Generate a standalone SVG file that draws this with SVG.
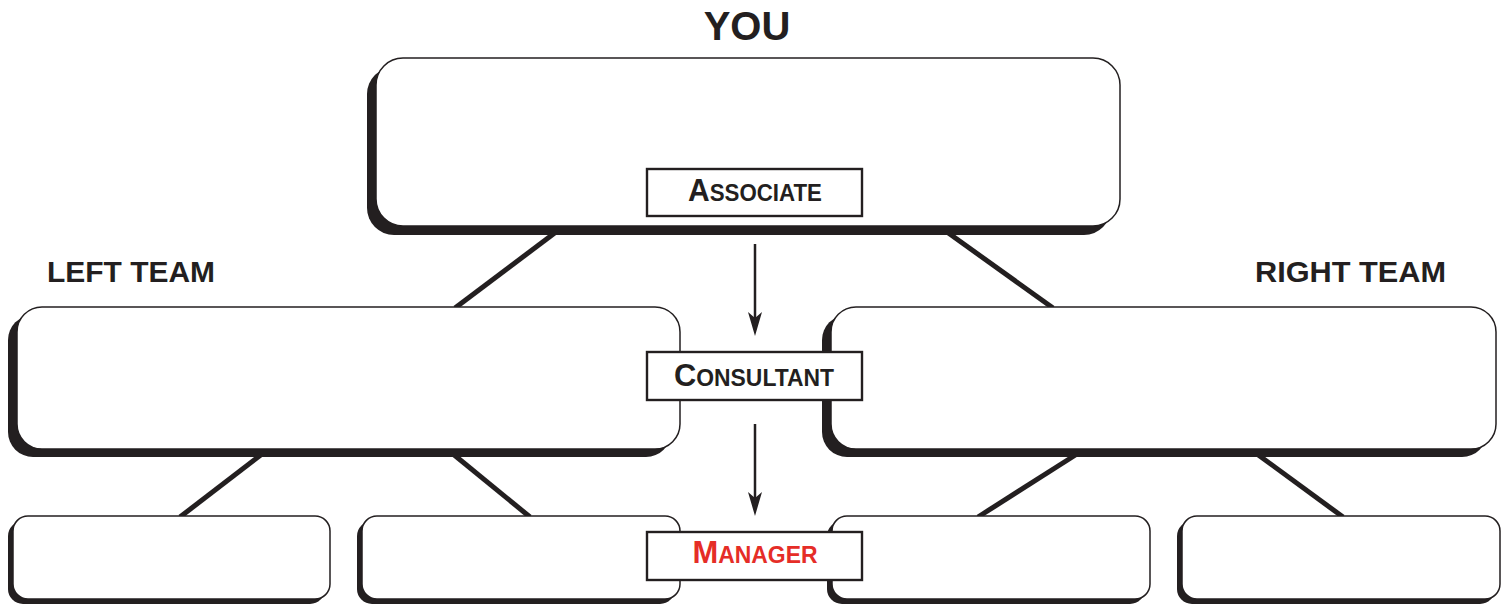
<svg xmlns="http://www.w3.org/2000/svg" width="1507" height="605" viewBox="0 0 1507 605">
<style>
.sh{fill:#231f20}
.bx{fill:#fff;stroke:#231f20;stroke-width:1.5}
.lb{fill:#fff;stroke:#231f20;stroke-width:2.4}
.ln{stroke:#231f20;stroke-width:5;fill:none}
.ar{stroke:#231f20;stroke-width:2.5;fill:none}
.t{font-family:"Liberation Sans",Arial,Helvetica,sans-serif;font-weight:bold;fill:#231f20}
.red{fill:#e52d27}
</style>
<rect width="1507" height="605" fill="#fff"/>
<g id="connectors">
<line class="ln" x1="556" y1="232" x2="455" y2="308"/>
<line class="ln" x1="947" y1="232" x2="1053" y2="308"/>
<line class="ln" x1="262" y1="454" x2="180" y2="517"/>
<line class="ln" x1="453" y1="454" x2="530" y2="517"/>
<line class="ln" x1="1077" y1="454" x2="978" y2="517"/>
<line class="ln" x1="1257" y1="454" x2="1343" y2="517"/>
<line class="ar" x1="755" y1="244" x2="755" y2="318"/>
<path d="M748,312 L755,336 L762,312 L755,318 Z" fill="#231f20"/>
<line class="ar" x1="755" y1="424" x2="755" y2="498"/>
<path d="M748,492 L755,516 L762,492 L755,498 Z" fill="#231f20"/>
</g>
<g id="you">
<text class="t" x="747" y="40" font-size="40" text-anchor="middle">YOU</text>
<rect class="sh" x="367" y="67" width="744" height="168" rx="27"/>
<rect class="bx" x="376" y="58" width="744" height="168" rx="27"/>
</g>
<g id="left-team">
<text class="t" x="47" y="282" font-size="30" textLength="168" lengthAdjust="spacingAndGlyphs">LEFT TEAM</text>
<rect class="sh" x="8" y="315" width="663" height="142" rx="25"/>
<rect class="bx" x="17" y="307" width="663" height="142" rx="25"/>
</g>
<g id="right-team">
<text class="t" x="1255" y="282" font-size="30" textLength="191" lengthAdjust="spacingAndGlyphs">RIGHT TEAM</text>
<rect class="sh" x="822" y="315" width="665" height="142" rx="25"/>
<rect class="bx" x="831" y="307" width="665" height="142" rx="25"/>
</g>
<g id="bottom-1">
<rect class="sh" x="8" y="521" width="317" height="83" rx="15"/>
<rect class="bx" x="13" y="516" width="317" height="83" rx="15"/>
</g>
<g id="bottom-2">
<rect class="sh" x="357" y="521" width="318" height="83" rx="15"/>
<rect class="bx" x="362" y="516" width="318" height="83" rx="15"/>
</g>
<g id="bottom-3">
<rect class="sh" x="827" y="521" width="318" height="83" rx="15"/>
<rect class="bx" x="832" y="516" width="318" height="83" rx="15"/>
</g>
<g id="bottom-4">
<rect class="sh" x="1177" y="521" width="318" height="83" rx="15"/>
<rect class="bx" x="1182" y="516" width="318" height="83" rx="15"/>
</g>
<g id="associate">
<rect class="lb" x="647" y="169" width="215" height="47"/>
<text class="t" x="755" y="201" text-anchor="middle" textLength="134" lengthAdjust="spacingAndGlyphs"><tspan font-size="31">A</tspan><tspan font-size="23">SSOCIATE</tspan></text>
</g>
<g id="consultant">
<rect class="lb" x="647" y="352" width="215" height="48"/>
<text class="t" x="754" y="386" text-anchor="middle" textLength="160" lengthAdjust="spacingAndGlyphs"><tspan font-size="31">C</tspan><tspan font-size="23">ONSULTANT</tspan></text>
</g>
<g id="manager">
<rect class="lb" x="647" y="532" width="215" height="48"/>
<text class="t red" x="755" y="563" text-anchor="middle" textLength="125" lengthAdjust="spacingAndGlyphs"><tspan font-size="31">M</tspan><tspan font-size="23">ANAGER</tspan></text>
</g>
</svg>
